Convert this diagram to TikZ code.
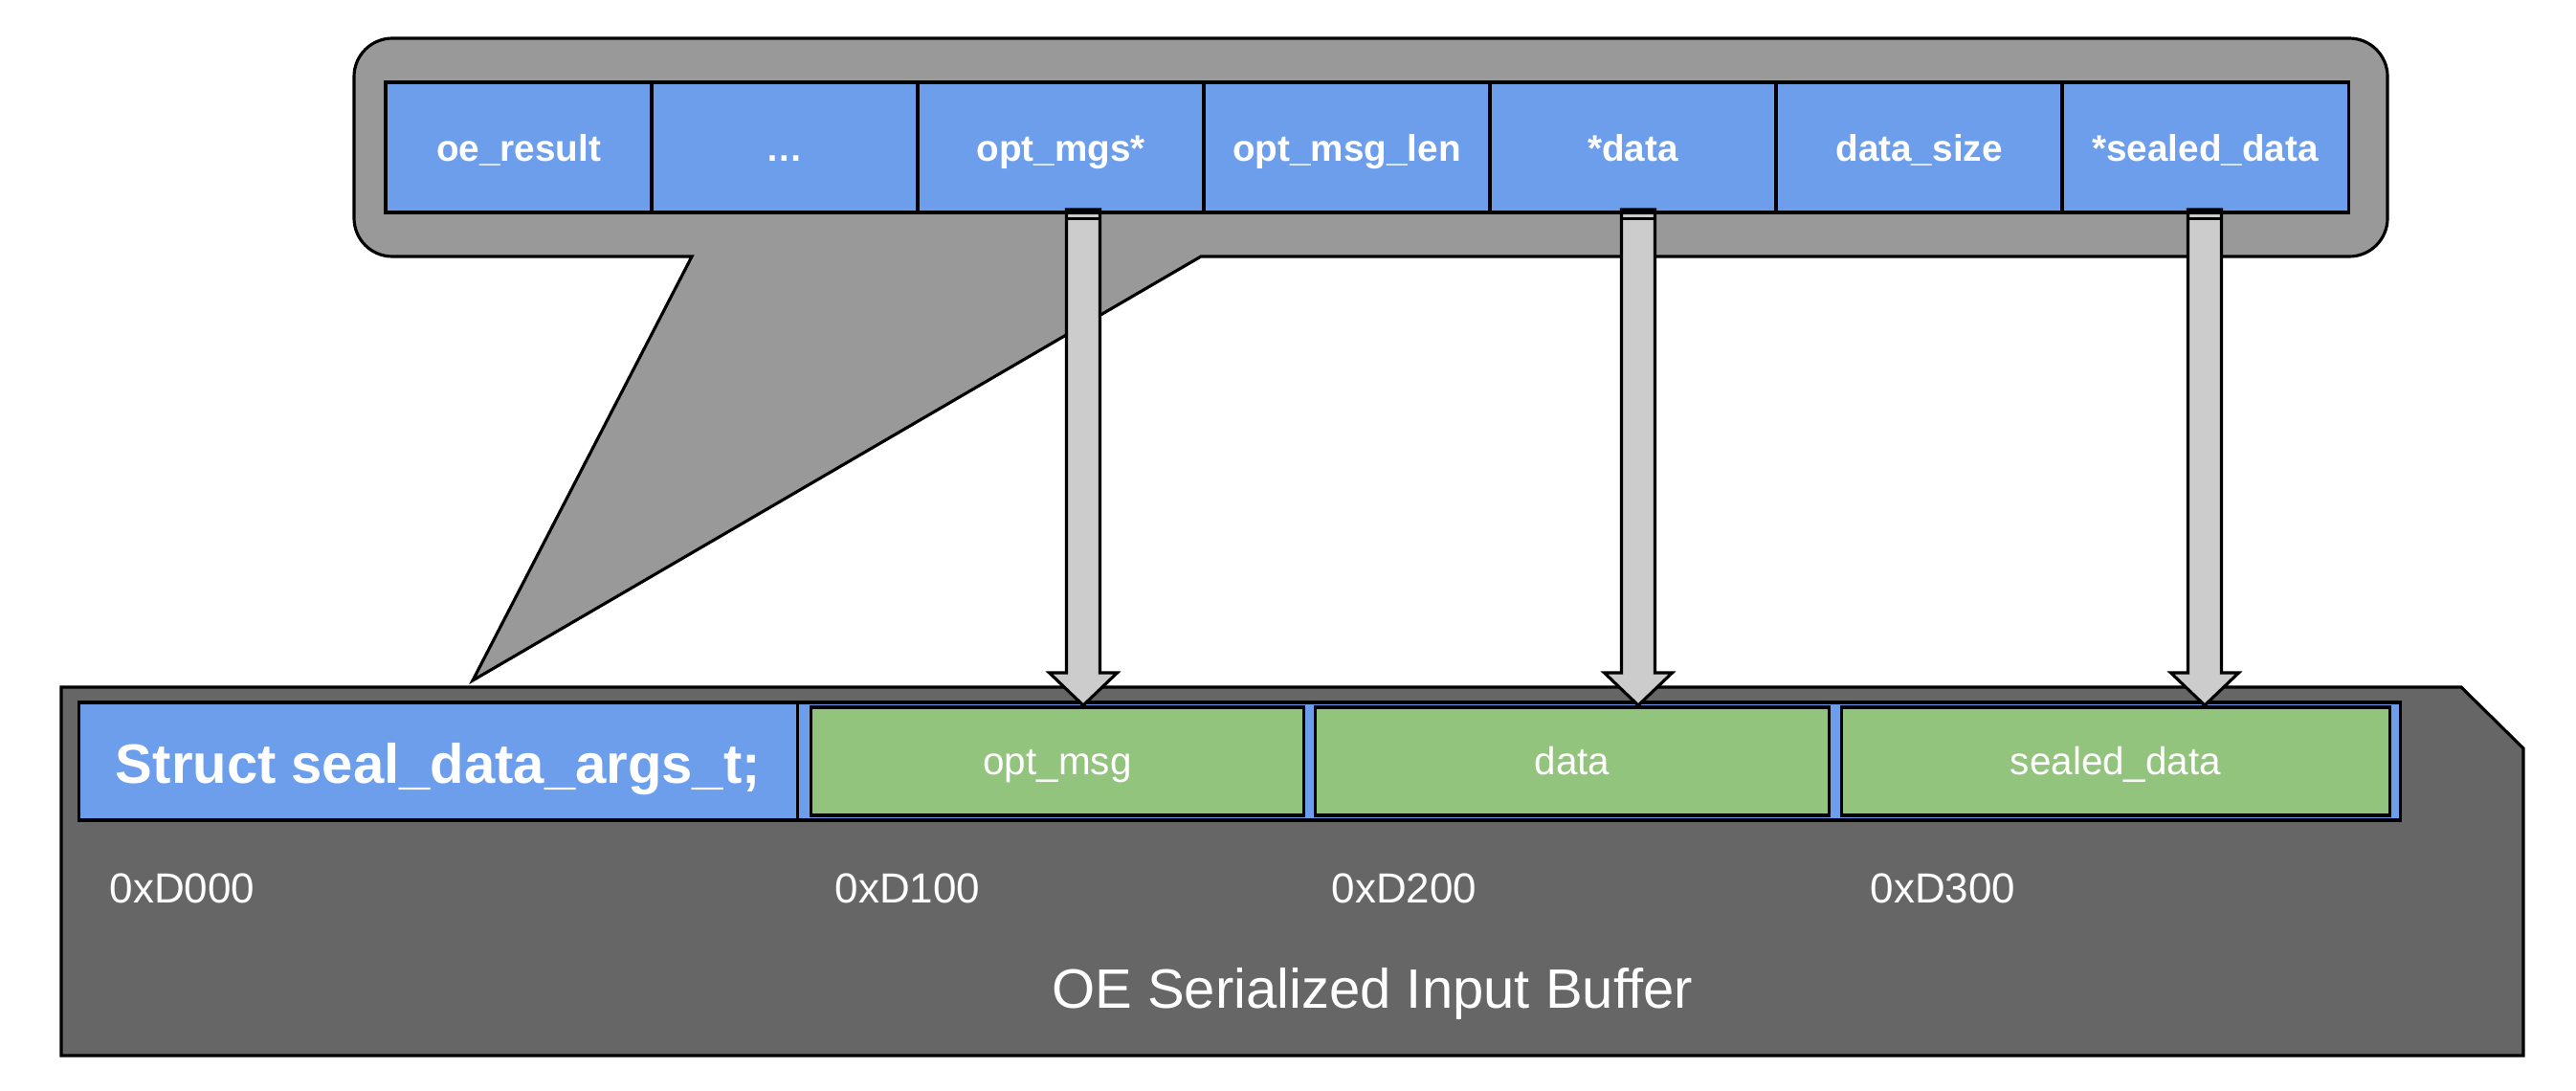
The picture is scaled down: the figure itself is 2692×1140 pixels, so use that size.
\documentclass[tikz,border=0pt]{standalone}
\usepackage{fontspec}
\setmainfont{Liberation Sans}
\usetikzlibrary{calc}
\definecolor{fieldblue}{HTML}{6D9EEB}
\definecolor{slotgreen}{HTML}{93C47D}
\definecolor{calloutgray}{HTML}{999999}
\definecolor{buffergray}{HTML}{666666}
\definecolor{arrowgray}{HTML}{CCCCCC}
\tikzset{
  outline/.style={draw=black, line width=0.9pt},
  field/.style={outline, fill=fieldblue, text=white, inner sep=0pt,
    minimum height=1.36cm, text height=9pt, text depth=1pt,
    font=\fontsize{11}{13}\selectfont\bfseries},
  structbox/.style={outline, fill=fieldblue, text=white, inner sep=0pt,
    minimum height=1.23cm, minimum width=7.5cm, text height=13.5pt, text depth=0.7pt,
    font=\fontsize{16.5}{19}\selectfont\bfseries},
  strip/.style={outline, fill=fieldblue, inner sep=0pt, minimum height=1.23cm, minimum width=24.25cm},
  slot/.style={outline, fill=slotgreen, text=white, inner sep=0pt,
    minimum height=1.13cm, text height=9pt, text depth=0.8pt,
    font=\fontsize{11.5}{14}\selectfont},
  hexlabel/.style={text=white, inner sep=0pt, anchor=base west, font=\fontsize{12.5}{15}\selectfont},
  titlelabel/.style={text=white, inner sep=0pt, anchor=base, font=\fontsize{16.5}{19}\selectfont},
  blockarr/.style={outline, fill=arrowgray, line join=miter},
}
\newcommand\blockarrow[2]{%
  \draw[blockarr] ($(#1)+(-17.5,0)$) -- ($(#2)+(-17.5,-34)$) -- ($(#2)+(-35.5,-34)$) -- (#2)
     -- ($(#2)+(35.5,-34)$) -- ($(#2)+(17.5,-34)$) -- ($(#1)+(17.5,0)$) -- cycle;
  \fill[black] ($(#1)+(-17.5,0)$) rectangle ($(#1)+(17.5,5)$);
  \draw[line width=0.9pt] ($(#1)+(-17.5,9.5)$) -- ($(#1)+(17.5,9.5)$);
}
\begin{document}
\begin{tikzpicture}[x=0.01cm, y=-0.01cm]
\useasboundingbox (0,0) rectangle (2692,1140);
% callout balloon
\path[outline, fill=calloutgray, line join=miter] (600,268) [rounded corners=0.4cm] -- (370,268) -- (370,40)
   -- (2495,40) -- (2495,268) -- (1600,268) [sharp corners] -- (1255,268) -- (494,711) -- (723,268) -- cycle;
% buffer
\path[outline, fill=buffergray] (64,718) -- (2572,718) -- (2637,782) -- (2637,1103) -- (64,1103) -- cycle;
% struct fields
\node[field, minimum width=2.78cm] (f1) at (542,154) {oe\_result};
\node[field, minimum width=2.78cm] (f2) at (820,154) {…};
\node[field, minimum width=2.99cm] (f3) at (1108.5,154) {opt\_mgs*};
\node[field, minimum width=2.99cm] (f4) at (1407.5,154) {opt\_msg\_len};
\node[field, minimum width=2.99cm] (f5) at (1706.5,154) {*data};
\node[field, minimum width=2.99cm] (f6) at (2005.5,154) {data\_size};
\node[field, minimum width=2.99cm] (f7) at (2304.5,154) {*sealed\_data};
% buffer contents
\node[strip] (strip) at (1295.5,795.5) {};
\node[structbox] (st) at (458,795.5) {Struct seal\_data\_args\_t;};
\node[slot, minimum width=5.14cm] (g1) at (1105,795.5) {opt\_msg};
\node[slot, minimum width=5.36cm] (g2) at (1643,795.5) {data};
\node[slot, minimum width=5.72cm] (g3) at (2211,795.5) {sealed\_data};
% addresses
\node[hexlabel] (h0) at (114,943) {0xD000};
\node[hexlabel] (h1) at (872,943) {0xD100};
\node[hexlabel] (h2) at (1391,943) {0xD200};
\node[hexlabel] (h3) at (1954,943) {0xD300};
\node[titlelabel] (title) at (1434,1053) {OE Serialized Input Buffer};
% pointer arrows
\coordinate (a1s) at (1132,219); \coordinate (a1e) at (1132,737);
\coordinate (a2s) at (1712,219); \coordinate (a2e) at (1712,737);
\coordinate (a3s) at (2304,219); \coordinate (a3e) at (2304,737);
\blockarrow{a1s}{a1e}
\blockarrow{a2s}{a2e}
\blockarrow{a3s}{a3e}
\end{tikzpicture}
\end{document}
